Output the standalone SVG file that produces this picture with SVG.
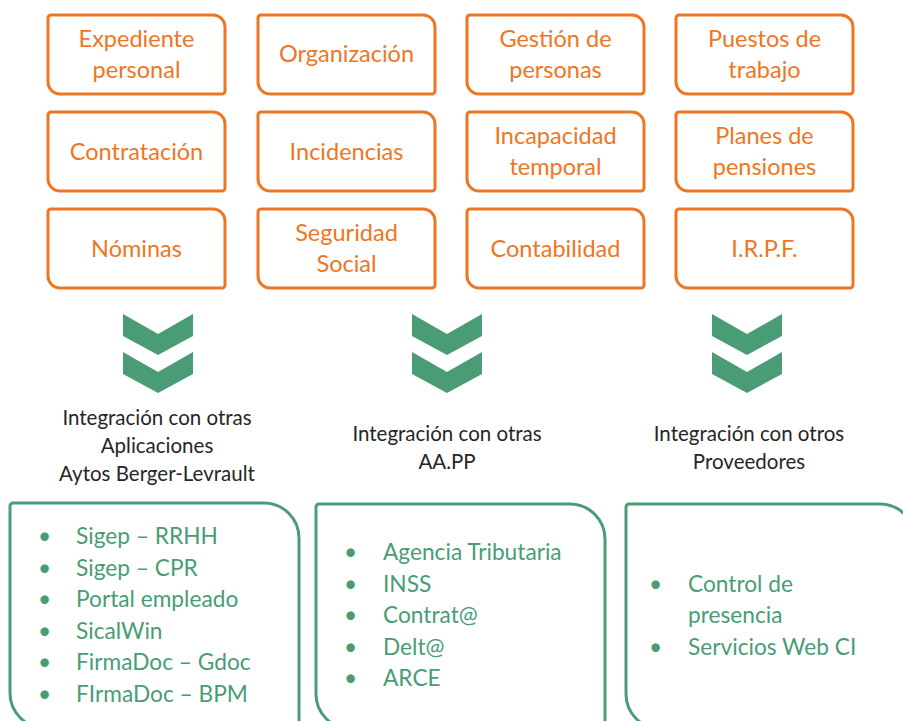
<svg xmlns="http://www.w3.org/2000/svg" xmlns:xlink="http://www.w3.org/1999/xlink" width="903" height="721" viewBox="0 0 903 721">
<style>
.tb{fill:#fff;stroke:#EE7623;stroke-width:3}
.tt{fill:#EE7623;font-family:Lato,"Liberation Sans",sans-serif;font-size:23.5px;text-anchor:middle}
.bb{fill:#fff;stroke:#4A9C77;stroke-width:3}
.bt{fill:#4A9C77;font-family:Lato,"Liberation Sans",sans-serif;font-size:22.7px}
.lb{fill:#262626;font-family:Lato,"Liberation Sans",sans-serif;font-size:20.5px;text-anchor:middle}
.ch{fill:#4A9C77}
</style>
<defs>
<path id="tbox" d="M3,0 H165 A12,12 0 0 1 177,12 V76 A3,3 0 0 1 174,79 H12 A12,12 0 0 1 0,67 V3 A3,3 0 0 1 3,0 Z"/>
<path id="bbox" d="M3,0 H254 A35,35 0 0 1 289,35 V222 A3,3 0 0 1 286,225 H35 A35,35 0 0 1 0,190 V3 A3,3 0 0 1 3,0 Z"/>
<path id="chev" d="M-35,0 L0,20 L35,0 L35,22 L0,41 L-35,22 Z"/>
</defs>
<rect width="903" height="721" fill="#fff"/>

<g id="expediente" transform="translate(48,15)"><use href="#tbox" class="tb"/><text class="tt" x="88.5" y="32">Expediente</text><text class="tt" x="88.5" y="63">personal</text></g>
<g id="organizacion" transform="translate(258,15)"><use href="#tbox" class="tb"/><text class="tt" x="88.5" y="47">Organización</text></g>
<g id="gestion" transform="translate(467,15)"><use href="#tbox" class="tb"/><text class="tt" x="88.5" y="32">Gestión de</text><text class="tt" x="88.5" y="63">personas</text></g>
<g id="puestos" transform="translate(676,15)"><use href="#tbox" class="tb"/><text class="tt" x="88.5" y="32">Puestos de</text><text class="tt" x="88.5" y="63">trabajo</text></g>

<g id="contratacion" transform="translate(48,112)"><use href="#tbox" class="tb"/><text class="tt" x="88.5" y="48">Contratación</text></g>
<g id="incidencias" transform="translate(258,112)"><use href="#tbox" class="tb"/><text class="tt" x="88.5" y="48">Incidencias</text></g>
<g id="incapacidad" transform="translate(467,112)"><use href="#tbox" class="tb"/><text class="tt" x="88.5" y="32">Incapacidad</text><text class="tt" x="88.5" y="63">temporal</text></g>
<g id="planes" transform="translate(676,112)"><use href="#tbox" class="tb"/><text class="tt" x="88.5" y="32">Planes de</text><text class="tt" x="88.5" y="63">pensiones</text></g>

<g id="nominas" transform="translate(48,209)"><use href="#tbox" class="tb"/><text class="tt" x="88.5" y="48">Nóminas</text></g>
<g id="seguridad" transform="translate(258,209)"><use href="#tbox" class="tb"/><text class="tt" x="88.5" y="32">Seguridad</text><text class="tt" x="88.5" y="63">Social</text></g>
<g id="contabilidad" transform="translate(467,209)"><use href="#tbox" class="tb"/><text class="tt" x="88.5" y="48">Contabilidad</text></g>
<g id="irpf" transform="translate(676,209)"><use href="#tbox" class="tb"/><text class="tt" x="88.5" y="48">I.R.P.F.</text></g>

<g id="connectors">
<use href="#chev" class="ch" transform="translate(158,314)"/>
<use href="#chev" class="ch" transform="translate(158,352)"/>
<use href="#chev" class="ch" transform="translate(447,314)"/>
<use href="#chev" class="ch" transform="translate(447,352)"/>
<use href="#chev" class="ch" transform="translate(747,314)"/>
<use href="#chev" class="ch" transform="translate(747,352)"/>
</g>

<g id="label-aplicaciones">
<text class="lb" x="157" y="425">Integración con otras</text>
<text class="lb" x="157" y="453">Aplicaciones</text>
<text class="lb" x="157" y="481">Aytos Berger-Levrault</text>
</g>
<g id="label-aapp">
<text class="lb" x="447" y="441">Integración con otras</text>
<text class="lb" x="447" y="469">AA.PP</text>
</g>
<g id="label-proveedores">
<text class="lb" x="749" y="441">Integración con otros</text>
<text class="lb" x="749" y="469">Proveedores</text>
</g>

<g id="list-aplicaciones" transform="translate(10,503)"><use href="#bbox" class="bb"/>
<g class="bt">
<text x="28" y="41">•</text><text x="66" y="41">Sigep – RRHH</text>
<text x="28" y="73">•</text><text x="66" y="73">Sigep – CPR</text>
<text x="28" y="104">•</text><text x="66" y="104">Portal empleado</text>
<text x="28" y="136">•</text><text x="66" y="136">SicalWin</text>
<text x="28" y="167">•</text><text x="66" y="167">FirmaDoc – Gdoc</text>
<text x="28" y="199">•</text><text x="66" y="199">FIrmaDoc – BPM</text>
</g></g>

<g id="list-aapp" transform="translate(316,504)"><use href="#bbox" class="bb"/>
<g class="bt">
<text x="28" y="56">•</text><text x="67" y="56">Agencia Tributaria</text>
<text x="28" y="88">•</text><text x="67" y="88">INSS</text>
<text x="28" y="119">•</text><text x="67" y="119">Contrat@</text>
<text x="28" y="151">•</text><text x="67" y="151">Delt@</text>
<text x="28" y="182">•</text><text x="67" y="182">ARCE</text>
</g></g>

<g id="list-proveedores" transform="translate(626,504)"><use href="#bbox" class="bb"/>
<g class="bt">
<text x="23" y="88">•</text><text x="62" y="88">Control de</text>
<text x="62" y="119">presencia</text>
<text x="23" y="151">•</text><text x="62" y="151">Servicios Web CI</text>
</g></g>
</svg>
